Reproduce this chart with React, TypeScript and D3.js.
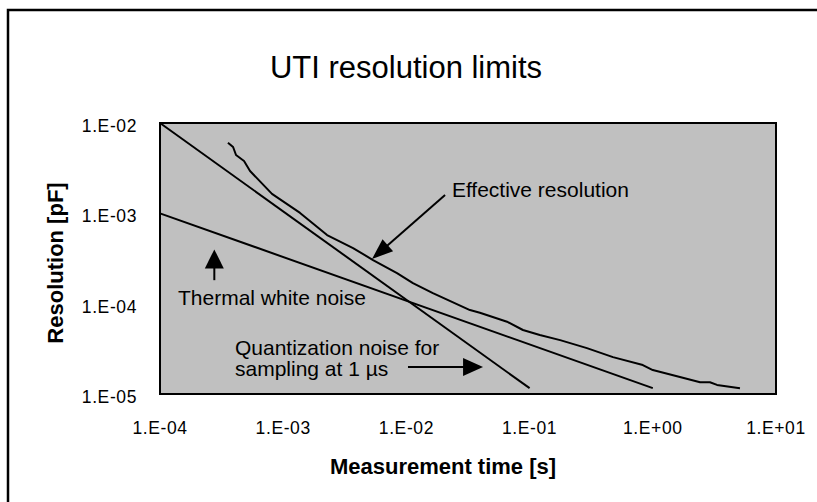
import * as d3 from 'd3'

const W = 817
const H = 502

const effTime = [3.56e-4, 3.92e-4, 4.14e-4, 4.81e-4, 5.38e-4, 8.11e-4, 1.37e-3, 2.27e-3, 3.69e-3, 5.36e-3, 8.39e-3, 1.13e-2, 1.64e-2, 3.28e-2, 3.95e-2, 6.56e-2, 8.83e-2, 0.121, 0.177, 0.292, 0.475, 0.83, 1.0, 1.66, 2.42, 2.91, 3.32, 5.1]
const effRes = [6.05e-3, 5.42e-3, 4.42e-3, 3.79e-3, 2.94e-3, 1.64e-3, 1.01e-3, 5.75e-4, 4.13e-4, 3.04e-4, 2.18e-4, 1.69e-4, 1.31e-4, 8.49e-5, 7.92e-5, 6.31e-5, 5.11e-5, 4.49e-5, 3.95e-5, 3.22e-5, 2.56e-5, 2.09e-5, 1.84e-5, 1.54e-5, 1.35e-5, 1.35e-5, 1.26e-5, 1.16e-5]
const thermTime = [1e-4, 1.0]
const thermRes = [1e-3, 1.16e-5]
const quantTime = [1e-4, 0.1]
const quantRes = [1e-2, 1.16e-5]

const xTicks = [1e-4, 1e-3, 1e-2, 1e-1, 1, 10]
const xTickLabels = ['1.E-04', '1.E-03', '1.E-02', '1.E-01', '1.E+00', '1.E+01']
const yTicks = [1e-2, 1e-3, 1e-4, 1e-5]
const yTickLabels = ['1.E-02', '1.E-03', '1.E-04', '1.E-05']

const font = '"Liberation Sans", Arial, Helvetica, sans-serif'

const x = d3.scaleLog().domain([1e-4, 10]).range([160, 776])
const y = d3.scaleLog().domain([1e-5, 1e-2]).range([394, 123])

const line = d3
  .line<[number, number]>()
  .x(d => x(d[0]))
  .y(d => y(d[1]))

const zip = (a: number[], b: number[]) => a.map((v, i) => [v, b[i]] as [number, number])

// filled triangle arrowhead: tip at (tx,ty), pointing away from (fx,fy)
function head(tx: number, ty: number, fx: number, fy: number, len: number, wid: number) {
  const dx = tx - fx
  const dy = ty - fy
  const l = Math.hypot(dx, dy)
  const ux = dx / l
  const uy = dy / l
  const bx = tx - ux * len
  const by = ty - uy * len
  const px = -uy * (wid / 2)
  const py = ux * (wid / 2)
  return `M${tx},${ty}L${bx + px},${by + py}L${bx - px},${by - py}Z`
}

function Arrow({ from, to, len, wid }: { from: [number, number]; to: [number, number]; len: number; wid: number }) {
  const fx = x(from[0])
  const fy = y(from[1])
  const tx = x(to[0])
  const ty = y(to[1])
  const l = Math.hypot(tx - fx, ty - fy)
  const ex = tx - ((tx - fx) / l) * (len - 2)
  const ey = ty - ((ty - fy) / l) * (len - 2)
  return (
    <g>
      <line x1={fx} y1={fy} x2={ex} y2={ey} stroke="#000" strokeWidth={2} />
      <path d={head(tx, ty, fx, fy, len, wid)} fill="#000" />
    </g>
  )
}

export default function App() {
  const [x0, x1] = x.range()
  const [y0, y1] = y.range()
  const annot = { fontFamily: font, fontSize: 21, fill: '#000' }
  return (
    <svg width={W} height={H} style={{ position: 'absolute', left: 0, top: 0, background: '#fff' }}>
      <rect x={8} y={10} width={W + 10} height={H + 10} fill="#fff" stroke="#000" strokeWidth={2.5} />
      <text x={406} y={78} textAnchor="middle" fontFamily={font} fontSize={31}>
        UTI resolution limits
      </text>

      <rect x={x0} y={y1} width={x1 - x0} height={y0 - y1} fill="#c0c0c0" stroke="#000" strokeWidth={2} />

      {xTicks.map((t, i) => (
        <text key={t} x={x(t)} y={434} textAnchor="middle" fontFamily={font} fontSize={17.5} letterSpacing={0.6}>
          {xTickLabels[i]}
        </text>
      ))}
      {yTicks.map((t, i) => (
        <text key={t} x={137} y={y(t) + 9} textAnchor="end" fontFamily={font} fontSize={17.5} letterSpacing={0.6}>
          {yTickLabels[i]}
        </text>
      ))}

      <text x={443} y={474} textAnchor="middle" fontFamily={font} fontSize={22} fontWeight="bold">
        Measurement time [s]
      </text>
      <text transform="translate(63,263) rotate(-90)" textAnchor="middle" fontFamily={font} fontSize={22} fontWeight="bold">
        Resolution [pF]
      </text>

      <path d={line(zip(quantTime, quantRes)) ?? ''} fill="none" stroke="#000" strokeWidth={2} />
      <path d={line(zip(thermTime, thermRes)) ?? ''} fill="none" stroke="#000" strokeWidth={2} />
      <path d={line(zip(effTime, effRes)) ?? ''} fill="none" stroke="#000" strokeWidth={2} strokeLinejoin="round" />

      <Arrow from={[2.06e-2, 1.6e-3]} to={[5.26e-3, 3.12e-4]} len={21} wid={16} />
      <text x={x(2.34e-2)} y={y(1.52e-3)} {...annot}>
        Effective resolution
      </text>

      <Arrow from={[2.76e-4, 1.82e-4]} to={[2.76e-4, 3.99e-4]} len={19} wid={19} />
      <text x={x(1.4e-4)} y={y(9.64e-5)} {...annot}>
        Thermal white noise
      </text>

      <Arrow from={[1.03e-2, 1.99e-5]} to={[4.19e-2, 1.99e-5]} len={20} wid={18} />
      <text x={x(4.06e-4)} y={y(2.7e-5)} {...annot}>
        Quantization noise for
      </text>
      <text x={x(4.06e-4)} y={y(1.58e-5)} {...annot}>
        sampling at 1 µs
      </text>
    </svg>
  )
}
